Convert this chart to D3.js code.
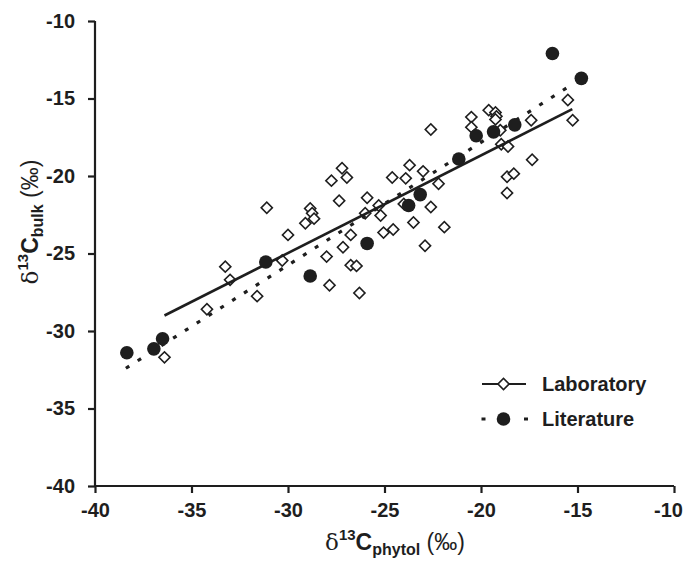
<!DOCTYPE html>
<html>
<head>
<meta charset="utf-8">
<script src="https://cdn.jsdelivr.net/npm/d3@7"></script>
<style>
  html, body { margin: 0; padding: 0; background: #fff; }
  svg { display: block; font-family: "Liberation Sans", Arial, sans-serif; }
</style>
</head>
<body>
<svg id="chart" width="687" height="567"></svg>
<script>
// ---- data ----
const labX = [-36.4,-34.2,-33.25,-33.0,-31.6,-31.1,-30.3,-30.0,-29.1,-28.85,-28.75,-28.65,-28.0,-27.85,-27.75,-27.35,-27.2,-27.15,-26.95,-26.75,-26.75,-26.45,-26.3,-26.0,-25.9,-25.3,-25.2,-25.05,-24.55,-24.6,-24.0,-23.9,-23.7,-23.5,-23.0,-22.9,-22.6,-22.6,-22.2,-21.9,-20.5,-20.5,-19.6,-19.25,-19.2,-19.25,-19.0,-18.95,-18.6,-18.65,-18.3,-18.65,-17.4,-17.35,-15.5,-15.25];
const labY = [-31.7,-28.6,-25.85,-26.7,-27.75,-22.05,-25.45,-23.8,-23.05,-22.1,-22.4,-22.75,-25.2,-27.05,-20.3,-21.6,-19.5,-24.6,-20.1,-23.8,-25.75,-25.8,-27.55,-22.4,-21.4,-21.9,-22.55,-23.65,-23.45,-20.1,-21.8,-20.15,-19.3,-23.0,-19.7,-24.5,-17.0,-22.0,-20.5,-23.3,-16.2,-16.85,-15.75,-15.9,-16.15,-16.35,-17.05,-17.95,-18.1,-20.05,-19.85,-21.1,-16.4,-18.95,-15.1,-16.4];
const litX = [-38.35,-36.95,-36.5,-31.15,-28.85,-25.9,-23.75,-23.15,-21.15,-20.25,-19.35,-18.25,-16.3,-14.8];
const litY = [-31.4,-31.15,-30.5,-25.55,-26.45,-24.35,-21.9,-21.2,-18.9,-17.4,-17.15,-16.7,-12.1,-13.7];
// regression lines: [slope, intercept, xStart, xEnd]
const labFit = [0.63, -6.07, -36.4, -15.27];
const litFit = [0.792, -1.99, -38.4, -15.3];
const xTicks = [-40,-35,-30,-25,-20,-15,-10];
const yTicks = [-40,-35,-30,-25,-20,-15,-10];
const seriesNames = ["Laboratory", "Literature"];

// ---- layout ----
const svg = d3.select("#chart");
const x = d3.scaleLinear().domain([-40,-10]).range([95,674]);
const y = d3.scaleLinear().domain([-40,-10]).range([486,21]);
const ink = "#1e1e1e";

// axes
const xAxis = d3.axisBottom(x).tickValues(xTicks).tickSize(7).tickPadding(10).tickFormat(d3.format("d"));
const yAxis = d3.axisLeft(y).tickValues(yTicks).tickSize(7).tickPadding(13).tickFormat(d3.format("d"));

const gx = svg.append("g").attr("transform", "translate(0,486)").call(xAxis);
const gy = svg.append("g").attr("transform", "translate(95,0)").call(yAxis);
[gx, gy].forEach(g => {
  g.select(".domain").attr("stroke", ink).attr("stroke-width", 2.2);
  g.selectAll(".tick line").attr("stroke", ink).attr("stroke-width", 2.2);
  g.selectAll(".tick text").attr("fill", ink).attr("font-size", 20).attr("font-weight", "bold")
    .attr("font-family", "'Liberation Sans', Arial, sans-serif")
    .text(d => d3.format("d")(d).replace("−", "-"));
});
gx.selectAll(".tick text").filter(d => d === -10).attr("dx", -6);
gx.select(".domain").attr("d", "M95,0H674");
gy.select(".domain").attr("d", "M0,21V486");

// diamonds (laboratory)
const labData = labX.map((v, i) => [v, labY[i]]);
const litData = litX.map((v, i) => [v, litY[i]]);
const diamond = d3.symbol().type(d3.symbolSquare).size(62);

svg.append("g").selectAll("path").data(labData).join("path")
  .attr("d", diamond)
  .attr("transform", d => `translate(${x(d[0])},${y(d[1])}) rotate(45)`)
  .attr("fill", "#fff").attr("stroke", ink).attr("stroke-width", 1.6);

// regression lines
function fitLine(f) { return [[f[2], f[0]*f[2]+f[1]], [f[3], f[0]*f[3]+f[1]]]; }
const line = d3.line().x(d => x(d[0])).y(d => y(d[1]));
svg.append("path").attr("d", line(fitLine(labFit)))
  .attr("stroke", ink).attr("stroke-width", 2.6).attr("fill", "none");
svg.append("path").attr("d", line(fitLine(litFit)))
  .attr("stroke", ink).attr("stroke-width", 3.2).attr("fill", "none")
  .attr("stroke-dasharray", "4,10");

// circles (literature)
svg.append("g").selectAll("circle").data(litData).join("circle")
  .attr("cx", d => x(d[0])).attr("cy", d => y(d[1])).attr("r", 6.8)
  .attr("fill", ink);

// legend
const lg = svg.append("g");
lg.append("line").attr("x1", 482).attr("x2", 526).attr("y1", 384).attr("y2", 384)
  .attr("stroke", ink).attr("stroke-width", 2.2);
lg.append("path").attr("d", diamond).attr("transform", "translate(503.5,384) rotate(45)")
  .attr("fill", "#fff").attr("stroke", ink).attr("stroke-width", 1.6);
lg.append("line").attr("x1", 481.5).attr("x2", 528).attr("y1", 419).attr("y2", 419)
  .attr("stroke", ink).attr("stroke-width", 3).attr("stroke-dasharray", "4,38.5,4");
lg.append("circle").attr("cx", 503.5).attr("cy", 419).attr("r", 6.8).attr("fill", ink);
lg.selectAll("text").data(seriesNames).join("text")
  .attr("x", 542).attr("y", (d, i) => 391 + i * 35)
  .attr("font-size", 20).attr("font-weight", "bold").attr("fill", ink)
  .text(d => d);

// axis titles
function title(g, sub) {
  const t = g.append("text").attr("text-anchor", "middle").attr("fill", ink).attr("font-size", 23);
  t.append("tspan").attr("font-weight", "normal").attr("font-family", "'DejaVu Serif', serif").text("δ");
  t.append("tspan").attr("font-size", 15).attr("font-weight", "bold").attr("dy", -10).text("13");
  t.append("tspan").attr("font-weight", "bold").attr("dy", 10).text("C");
  t.append("tspan").attr("font-size", 16).attr("font-weight", "bold").attr("dy", 5).text(sub);
  t.append("tspan").attr("dy", -5).text("\u00a0(‰)");
}
title(svg.append("g").attr("transform", "translate(395,550)"), "phytol");
title(svg.append("g").attr("transform", "translate(38,222) rotate(-90)"), "bulk");
</script>
</body>
</html>
